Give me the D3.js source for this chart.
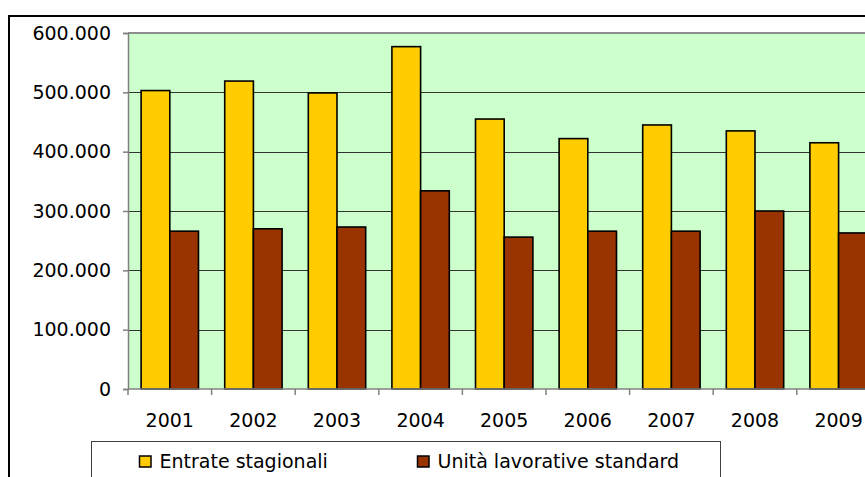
<!DOCTYPE html>
<html>
<head>
<meta charset="utf-8">
<script src="https://cdn.jsdelivr.net/npm/d3@7"></script>
<style>
  html, body { margin: 0; padding: 0; background: #fff; }
  svg { display: block; font-family: "DejaVu Sans", Verdana, sans-serif; }
</style>
</head>
<body>
<svg id="chart" width="865" height="477"></svg>
<script>
// Anni e valori delle due serie
const years = ["2001", "2002", "2003", "2004", "2005", "2006", "2007", "2008", "2009"];
const entrateStagionali = [503000, 519000, 499000, 577000, 455000, 422000, 445000, 435000, 415000];
const unitaLavorative = [266000, 270000, 273000, 334000, 256000, 266000, 266000, 300000, 263000];
const seriesNames = ["Entrate stagionali", "Unità lavorative standard"];
const seriesColors = ["#FFCC00", "#993300"];
const yTicks = [0, 100000, 200000, 300000, 400000, 500000, 600000];

const svg = d3.select("#chart");

// Cornice esterna del grafico
svg.append("rect")
  .attr("x", 9).attr("y", 16)
  .attr("width", 920).attr("height", 520)
  .attr("fill", "#fff").attr("stroke", "#000").attr("stroke-width", 2);

const plot = { left: 128, top: 33, bottom: 389, step: 83.6 };
plot.right = plot.left + plot.step * years.length;

const x0 = d3.scaleBand().domain(years).range([plot.left, plot.right]).padding(0);
const x1 = d3.scaleBand().domain(seriesNames).range([0, x0.bandwidth()])
  .paddingInner(0).paddingOuter(0.457);
const y = d3.scaleLinear().domain([0, 600000]).range([plot.bottom, plot.top]);

// Area del tracciato
svg.append("rect")
  .attr("x", plot.left).attr("y", plot.top)
  .attr("width", plot.right - plot.left).attr("height", plot.bottom - plot.top)
  .attr("fill", "#CCFFCC");

// Griglia orizzontale
svg.append("g")
  .selectAll("line")
  .data(yTicks.filter(d => d > 0 && d < 600000))
  .join("line")
  .attr("x1", plot.left).attr("x2", plot.right)
  .attr("y1", d => Math.round(y(d)) + 0.5).attr("y2", d => Math.round(y(d)) + 0.5)
  .attr("stroke", "#333").attr("stroke-width", 1);

// Bordo superiore dell'area
svg.append("line")
  .attr("x1", plot.left).attr("x2", plot.right)
  .attr("y1", plot.top).attr("y2", plot.top)
  .attr("stroke", "#8c8c8c").attr("stroke-width", 2);

// Barre
const rows = years.map((yr, i) => ({ year: yr, values: [entrateStagionali[i], unitaLavorative[i]] }));
const groups = svg.append("g")
  .selectAll("g")
  .data(rows)
  .join("g")
  .attr("transform", d => `translate(${x0(d.year)},0)`);

groups.selectAll("rect")
  .data(d => d.values.map((v, k) => ({ name: seriesNames[k], value: v, color: seriesColors[k] })))
  .join("rect")
  .attr("x", d => x1(d.name))
  .attr("y", d => y(d.value))
  .attr("width", x1.bandwidth())
  .attr("height", d => y(0) - y(d.value))
  .attr("fill", d => d.color)
  .attr("stroke", "#000")
  .attr("stroke-width", 1.6);

// Asse Y
const fmt = d => d === 0 ? "0" : d3.format(",")(d).replace(/,/g, ".");
const yAxis = svg.append("g")
  .attr("transform", `translate(${plot.left},0)`)
  .call(d3.axisLeft(y).tickValues(yTicks).tickFormat(fmt).tickSize(5).tickPadding(12));
yAxis.select(".domain").attr("stroke", "#808080").attr("stroke-width", 1.5);
yAxis.selectAll(".tick line").attr("stroke", "#808080").attr("stroke-width", 1.5);
yAxis.selectAll(".tick text")
  .attr("fill", "#000").attr("font-size", 19)
  .attr("font-family", "DejaVu Sans, Verdana, sans-serif");

// Asse X
const xTicks = d3.range(years.length + 1).map(i => plot.left + i * plot.step);
const xAxis = svg.append("g");
xAxis.append("line")
  .attr("x1", plot.left).attr("x2", plot.right)
  .attr("y1", plot.bottom).attr("y2", plot.bottom)
  .attr("stroke", "#808080").attr("stroke-width", 1.5);
xAxis.selectAll("line.tk")
  .data(xTicks)
  .join("line").attr("class", "tk")
  .attr("x1", d => d).attr("x2", d => d)
  .attr("y1", plot.bottom).attr("y2", plot.bottom + 6)
  .attr("stroke", "#808080").attr("stroke-width", 1.5);
xAxis.selectAll("text")
  .data(years)
  .join("text")
  .attr("x", d => x0(d) + x0.bandwidth() / 2)
  .attr("y", 426.5)
  .attr("text-anchor", "middle")
  .attr("font-size", 19)
  .text(d => d);

// Legenda
const legend = svg.append("g");
legend.append("rect")
  .attr("x", 91.5).attr("y", 441.5)
  .attr("width", 629).attr("height", 80)
  .attr("fill", "#fff").attr("stroke", "#404040").attr("stroke-width", 1);
const legendX = [139.5, 417.5];
const legendItems = legend.selectAll("g.item")
  .data(seriesNames)
  .join("g").attr("class", "item")
  .attr("transform", (d, i) => `translate(${legendX[i]},0)`);
legendItems.append("rect")
  .attr("x", 0).attr("y", 456)
  .attr("width", 11.5).attr("height", 11)
  .attr("fill", (d, i) => seriesColors[i])
  .attr("stroke", "#000").attr("stroke-width", 1.5);
legendItems.append("text")
  .attr("x", 20).attr("y", 468)
  .attr("font-size", 19)
  .text(d => d);
</script>
</body>
</html>
